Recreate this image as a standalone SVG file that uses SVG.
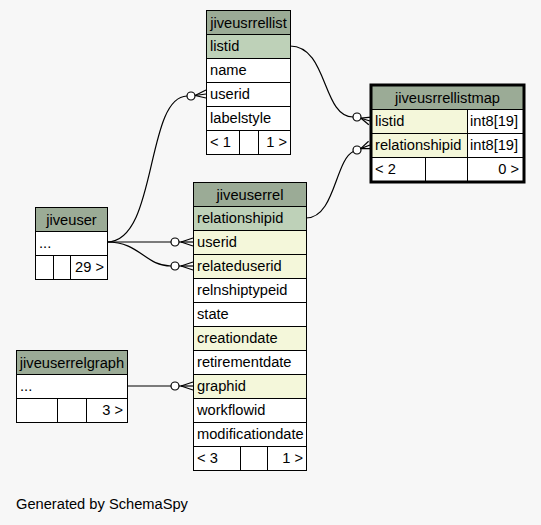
<svg xmlns="http://www.w3.org/2000/svg" width="541" height="525" viewBox="0 0 541 525">
<style>
text{font-family:"Liberation Sans",Arial,Helvetica,sans-serif;font-size:14.67px;fill:#000}
.h{fill:#9bab96}
.pk{fill:#bed1b8}
.fk{fill:#f4f7da}
.w{fill:#ffffff}
rect{stroke:#000;stroke-width:1}
rect.bg{stroke:none;fill:#f7f7f7}
.ctr{text-anchor:middle}
.r{text-anchor:end}
.edge path{fill:none;stroke:#000;stroke-width:1.2}
.edge circle{fill:#fff;stroke:#000;stroke-width:1.2}
.edge line{stroke:#000;stroke-width:1.2}
.focus{fill:none;stroke:#000;stroke-width:3}
</style>
<rect class="bg" x="0" y="0" width="541" height="525"/>

<g id="connectors" class="edge">
  <path d="M290,46 C328,46 322,117 353,117"/>
  <circle cx="357" cy="117" r="4"/>
  <line x1="361" y1="118.2" x2="370" y2="121"/>
  <line x1="361" y1="118.2" x2="371.2" y2="117.2"/>
  <line x1="361" y1="118.2" x2="368.8" y2="124.8"/>
  <path d="M306,218 C335,218 335,160 353.3,151.5"/>
  <circle cx="357" cy="150" r="4"/>
  <line x1="360.7" y1="148.6" x2="370" y2="145"/>
  <line x1="360.7" y1="148.6" x2="371.4" y2="148.7"/>
  <line x1="360.7" y1="148.6" x2="368.6" y2="141.3"/>
  <path d="M107,242 C158,242 145,97 187,96"/>
  <circle cx="191" cy="96" r="4"/>
  <line x1="195" y1="95.5" x2="206" y2="94"/>
  <line x1="195" y1="95.5" x2="206" y2="90"/>
  <line x1="195" y1="95.5" x2="206" y2="98"/>
  <path d="M107,242 L171,242"/>
  <circle cx="175" cy="242" r="4"/>
  <line x1="179" y1="242" x2="193" y2="242"/>
  <line x1="181" y1="242" x2="193" y2="238"/>
  <line x1="181" y1="242" x2="193" y2="246"/>
  <path d="M107,242 C140,242 145,266 171,266"/>
  <circle cx="175" cy="266" r="4"/>
  <line x1="179" y1="266" x2="193" y2="266"/>
  <line x1="181" y1="266" x2="193" y2="262"/>
  <line x1="181" y1="266" x2="193" y2="270"/>
  <path d="M127,386 L171,386"/>
  <circle cx="175" cy="386" r="4"/>
  <line x1="179" y1="386" x2="193" y2="386"/>
  <line x1="181" y1="386" x2="193" y2="382"/>
  <line x1="181" y1="386" x2="193" y2="390"/>
</g>

<g id="jiveusrrellist">
  <rect class="h" x="206.5" y="10.5" width="84" height="24"/>
  <rect class="pk" x="206.5" y="34.5" width="84" height="24"/>
  <rect class="w" x="206.5" y="58.5" width="84" height="24"/>
  <rect class="w" x="206.5" y="82.5" width="84" height="24"/>
  <rect class="w" x="206.5" y="106.5" width="84" height="24"/>
  <rect class="w" x="206.5" y="130.5" width="33" height="24"/>
  <rect class="w" x="239.5" y="130.5" width="19" height="24"/>
  <rect class="w" x="258.5" y="130.5" width="32" height="24"/>
  <text class="ctr" x="248.5" y="27.5">jiveusrrellist</text>
  <text x="210" y="51">listid</text>
  <text x="210" y="75">name</text>
  <text x="210" y="99">userid</text>
  <text x="210" y="123">labelstyle</text>
  <text x="210" y="147">&lt; 1</text>
  <text class="r" x="287" y="147">1 &gt;</text>
</g>

<g id="jiveusrrellistmap">
  <rect class="h" x="371.5" y="85.5" width="152" height="24"/>
  <rect class="fk" x="371.5" y="109.5" width="96" height="24"/>
  <rect class="w" x="467.5" y="109.5" width="56" height="24"/>
  <rect class="fk" x="371.5" y="133.5" width="96" height="24"/>
  <rect class="w" x="467.5" y="133.5" width="56" height="24"/>
  <rect class="w" x="371.5" y="157.5" width="54" height="24"/>
  <rect class="w" x="425.5" y="157.5" width="42" height="24"/>
  <rect class="w" x="467.5" y="157.5" width="56" height="24"/>
  <rect class="focus" x="371" y="85" width="153" height="97"/>
  <text class="ctr" x="447.5" y="102.5">jiveusrrellistmap</text>
  <text x="375" y="126">listid</text>
  <text x="470" y="126">int8[19]</text>
  <text x="375" y="150">relationshipid</text>
  <text x="470" y="150">int8[19]</text>
  <text x="375" y="174">&lt; 2</text>
  <text class="r" x="519" y="174">0 &gt;</text>
</g>

<g id="jiveuser">
  <rect class="h" x="35.5" y="207.5" width="72" height="24"/>
  <rect class="w" x="35.5" y="231.5" width="72" height="24"/>
  <rect class="w" x="35.5" y="255.5" width="18" height="24"/>
  <rect class="w" x="53.5" y="255.5" width="17" height="24"/>
  <rect class="w" x="70.5" y="255.5" width="37" height="24"/>
  <text class="ctr" x="71.5" y="224.5">jiveuser</text>
  <text x="39" y="248">...</text>
  <text class="r" x="104" y="272">29 &gt;</text>
</g>

<g id="jiveuserrel">
  <rect class="h" x="193.5" y="182.5" width="113" height="24"/>
  <rect class="pk" x="193.5" y="206.5" width="113" height="24"/>
  <rect class="fk" x="193.5" y="230.5" width="113" height="24"/>
  <rect class="fk" x="193.5" y="254.5" width="113" height="24"/>
  <rect class="w" x="193.5" y="278.5" width="113" height="24"/>
  <rect class="w" x="193.5" y="302.5" width="113" height="24"/>
  <rect class="fk" x="193.5" y="326.5" width="113" height="24"/>
  <rect class="w" x="193.5" y="350.5" width="113" height="24"/>
  <rect class="fk" x="193.5" y="374.5" width="113" height="24"/>
  <rect class="w" x="193.5" y="398.5" width="113" height="24"/>
  <rect class="w" x="193.5" y="422.5" width="113" height="24"/>
  <rect class="w" x="193.5" y="446.5" width="47" height="24"/>
  <rect class="w" x="240.5" y="446.5" width="27" height="24"/>
  <rect class="w" x="267.5" y="446.5" width="39" height="24"/>
  <text class="ctr" x="250" y="199.5">jiveuserrel</text>
  <text x="197" y="223">relationshipid</text>
  <text x="197" y="247">userid</text>
  <text x="197" y="271">relateduserid</text>
  <text x="197" y="295">relnshiptypeid</text>
  <text x="197" y="319">state</text>
  <text x="197" y="343">creationdate</text>
  <text x="197" y="367">retirementdate</text>
  <text x="197" y="391">graphid</text>
  <text x="197" y="415">workflowid</text>
  <text x="197" y="439">modificationdate</text>
  <text x="197" y="463">&lt; 3</text>
  <text class="r" x="303" y="463">1 &gt;</text>
</g>

<g id="jiveuserrelgraph">
  <rect class="h" x="16.5" y="350.5" width="111" height="24"/>
  <rect class="w" x="16.5" y="374.5" width="111" height="24"/>
  <rect class="w" x="16.5" y="398.5" width="41" height="24"/>
  <rect class="w" x="57.5" y="398.5" width="29" height="24"/>
  <rect class="w" x="86.5" y="398.5" width="41" height="24"/>
  <text class="ctr" x="72" y="367.5">jiveuserrelgraph</text>
  <text x="20" y="391">...</text>
  <text class="r" x="123" y="415">3 &gt;</text>
</g>

<text x="16" y="509">Generated by SchemaSpy</text>
</svg>
